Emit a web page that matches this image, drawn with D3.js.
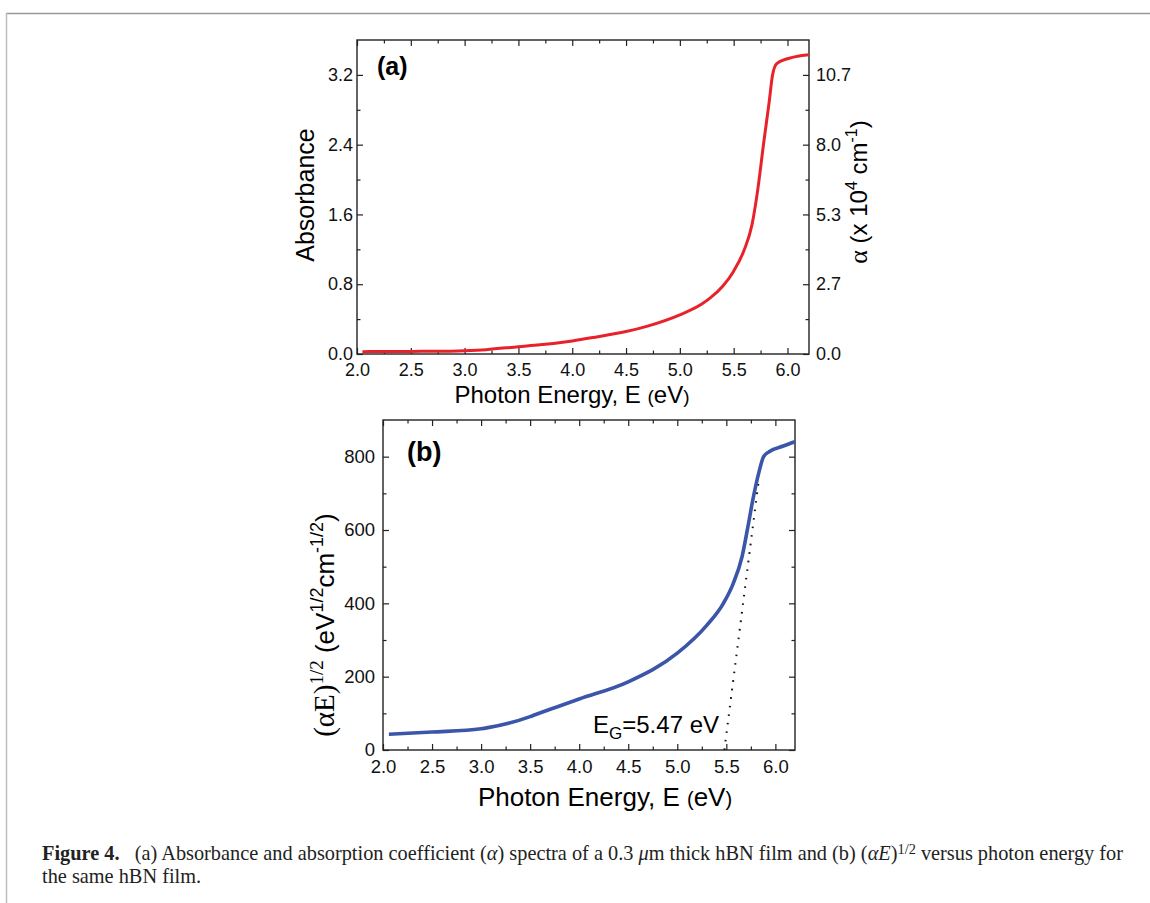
<!DOCTYPE html>
<html><head><meta charset="utf-8">
<script src="https://cdn.jsdelivr.net/npm/d3@7"></script>
<style>body{margin:0;background:#fff}svg{display:block}</style>
</head><body><svg id="c" width="1150" height="903"></svg>
<script>
// ---------- data ----------
const energyA = [2.05, 2.2, 2.5, 2.7, 3.0, 3.2, 3.5, 3.7, 4.0, 4.2, 4.5, 4.7, 5.0, 5.2, 5.28, 5.4, 5.5, 5.6, 5.67, 5.72, 5.78, 5.83, 5.86, 5.9, 6.0, 6.12, 6.2];
const absorbance = [0.027, 0.028, 0.03, 0.031, 0.038, 0.05, 0.084, 0.105, 0.15, 0.19, 0.257, 0.32, 0.449, 0.57, 0.64, 0.78, 0.95, 1.2, 1.48, 1.85, 2.43, 2.89, 3.19, 3.33, 3.385, 3.42, 3.43];
const energyB = [2.06, 2.5, 3.0, 3.07, 3.5, 3.55, 3.8, 4.0, 4.5, 5.0, 5.3, 5.47, 5.57, 5.66, 5.72, 5.77, 5.83, 5.88, 5.94, 6.08, 6.2];
const sqrtAlphaE = [43, 49, 58, 61, 91, 96, 120, 139, 186, 264, 340, 400, 454, 527, 609, 682, 755, 800, 814, 829, 841];
const tangentE = [5.48, 5.83];
const tangentV = [0, 735];
const xTicks = [2.0, 2.5, 3.0, 3.5, 4.0, 4.5, 5.0, 5.5, 6.0];
const xMinorTicks = [2.25, 2.75, 3.25, 3.75, 4.25, 4.75, 5.25, 5.75];
const absTicks = [0, 0.8, 1.6, 2.4, 3.2];
const absMinorTicks = [0.4, 1.2, 2.0, 2.8];
const alphaTicks = [0, 8/3, 16/3, 8, 32/3];
const bTicks = [0, 200, 400, 600, 800];
const bMinorTicks = [100, 300, 500, 700];

const svg = d3.select('#c');
const SANS = '"Liberation Sans", Arial, sans-serif';
const TICKF = '"Liberation Sans", Arial, sans-serif';
const SERIF = '"Liberation Serif", "Times New Roman", serif';

// page frame
svg.append('line').attr('x1', 6).attr('x2', 1150).attr('y1', 13.5).attr('y2', 13.5).attr('stroke', '#999').attr('stroke-width', 1.5);
svg.append('line').attr('x1', 6.5).attr('x2', 6.5).attr('y1', 13).attr('y2', 903).attr('stroke', '#bbb').attr('stroke-width', 1.5);

function panel(o) {
  const x = d3.scaleLinear().domain([2, 6.2]).range([o.left, o.right]);
  const y = d3.scaleLinear().domain(o.yDomain).range([o.bottom, o.top]);
  const g = svg.append('g');
  const fmt1 = d3.format('.1f');
  const add = (gen, tr) => g.append('g').attr('transform', tr).call(gen);
  add(d3.axisBottom(x).tickValues(xTicks).tickSize(-6).tickPadding(o.padX).tickFormat(fmt1), `translate(0,${o.bottom})`);
  add(d3.axisBottom(x).tickValues(xMinorTicks).tickSize(-3.5).tickFormat(''), `translate(0,${o.bottom})`);
  add(d3.axisTop(x).tickValues(xTicks).tickSize(-6).tickFormat(''), `translate(0,${o.top})`);
  add(d3.axisTop(x).tickValues(xMinorTicks).tickSize(-3.5).tickFormat(''), `translate(0,${o.top})`);
  add(d3.axisLeft(y).tickValues(o.yTicks).tickSize(-6).tickPadding(o.padY).tickFormat(o.yFmt), `translate(${o.left},0)`);
  add(d3.axisLeft(y).tickValues(o.yMinor).tickSize(-3.5).tickFormat(''), `translate(${o.left},0)`);
  if (o.right2) {
    const y2 = d3.scaleLinear().domain(o.right2.domain).range([o.bottom, o.top]);
    add(d3.axisRight(y2).tickValues(o.right2.ticks).tickSize(-6).tickPadding(7).tickFormat(fmt1), `translate(${o.right},0)`);
  } else {
    add(d3.axisRight(y).tickValues(o.yTicks).tickSize(-6).tickFormat(''), `translate(${o.right},0)`);
  }
  add(d3.axisRight(y).tickValues(o.yMinor).tickSize(-3.5).tickFormat(''), `translate(${o.right},0)`);
  g.selectAll('.domain').remove();
  g.selectAll('.tick line').attr('stroke', '#222').attr('stroke-width', 1.2);
  g.selectAll('.tick text').attr('font-family', TICKF).attr('font-size', o.tickSize).attr('fill', '#111');
  g.append('rect').attr('x', o.left).attr('y', o.top).attr('width', o.right - o.left).attr('height', o.bottom - o.top)
    .attr('fill', 'none').attr('stroke', '#222').attr('stroke-width', 1.4);
  return {x, y, g};
}

// ---------- panel (a) ----------
const A = panel({left: 357, right: 809, top: 40, bottom: 354, yDomain: [0, 3.6], yTicks: absTicks, yMinor: absMinorTicks,
  yFmt: d3.format('.1f'), padX: 9, padY: 4, tickSize: 18, right2: {domain: [0, 12], ticks: alphaTicks}});
const lineA = d3.line().x((d, i) => A.x(energyA[i])).y(d => A.y(d)).curve(d3.curveMonotoneX);
A.g.append('path').attr('d', lineA(absorbance)).attr('fill', 'none').attr('stroke', '#e8222b').attr('stroke-width', 3);
A.g.append('text').attr('x', 377).attr('y', 75).attr('font-family', SANS).attr('font-weight', 'bold').attr('font-size', 25).text('(a)');
A.g.append('text').attr('transform', 'translate(314,195) rotate(-90)').attr('text-anchor', 'middle')
  .attr('font-family', SANS).attr('font-size', 25).text('Absorbance');
const xlA = A.g.append('text').attr('x', 572).attr('y', 403).attr('text-anchor', 'middle').attr('font-family', SANS).attr('font-size', 24);
xlA.append('tspan').text('Photon Energy, E ');
xlA.append('tspan').attr('font-size', 19).text('(');
xlA.append('tspan').text('eV');
xlA.append('tspan').attr('font-size', 19).text(')');
const rl = A.g.append('text').attr('transform', 'translate(867,192) rotate(-90)').attr('text-anchor', 'middle')
  .attr('font-family', SANS).attr('font-size', 24);
rl.append('tspan').attr('font-family', SERIF).attr('font-size', 26).text('α');
rl.append('tspan').text(' (x 10');
rl.append('tspan').attr('dy', -10).attr('font-size', 16).text('4');
rl.append('tspan').attr('dy', 10).text(' cm');
rl.append('tspan').attr('dy', -10).attr('font-size', 16).text('-1');
rl.append('tspan').attr('dy', 10).text(')');

// ---------- panel (b) ----------
const B = panel({left: 383, right: 795, top: 420, bottom: 750, yDomain: [0, 900], yTicks: bTicks, yMinor: bMinorTicks,
  yFmt: d3.format('d'), padX: 10, padY: 8, tickSize: 18.5});
const lineB = d3.line().x((d, i) => B.x(energyB[i])).y(d => B.y(d)).curve(d3.curveMonotoneX);
const lineT = d3.line().x((d, i) => B.x(tangentE[i])).y(d => B.y(d));
B.g.append('path').attr('d', lineT(tangentV)).attr('fill', 'none').attr('stroke', '#111').attr('stroke-width', 2)
  .attr('stroke-dasharray', '1.6,7');
B.g.append('path').attr('d', lineB(sqrtAlphaE)).attr('fill', 'none').attr('stroke', '#3b55a8').attr('stroke-width', 3.6);
B.g.append('text').attr('x', 407).attr('y', 461).attr('font-family', SANS).attr('font-weight', 'bold').attr('font-size', 27).text('(b)');
const eg = B.g.append('text').attr('x', 593).attr('y', 733).attr('font-family', SANS).attr('font-size', 24);
eg.append('tspan').text('E');
eg.append('tspan').attr('dy', 6).attr('font-size', 17).text('G');
eg.append('tspan').attr('dy', -6).text('=5.47 eV');
const xlB = B.g.append('text').attr('x', 605).attr('y', 806).attr('text-anchor', 'middle').attr('font-family', SANS).attr('font-size', 26);
xlB.append('tspan').text('Photon Energy, E ');
xlB.append('tspan').attr('font-size', 20).text('(');
xlB.append('tspan').text('eV');
xlB.append('tspan').attr('font-size', 20).text(')');
const yl = B.g.append('text').attr('transform', 'translate(334,625) rotate(-90)').attr('text-anchor', 'middle')
  .attr('font-family', SANS).attr('font-size', 26);
yl.append('tspan').attr('font-family', SERIF).attr('font-size', 29).text('(αE)');
yl.append('tspan').attr('font-family', SERIF).attr('dy', -11).attr('font-size', 19).text('1/2');
yl.append('tspan').attr('dy', 11).text(' (eV');
yl.append('tspan').attr('dy', -11).attr('font-size', 18).text('1/2');
yl.append('tspan').attr('dy', 11).text('cm');
yl.append('tspan').attr('dy', -11).attr('font-size', 18).text('-1/2');
yl.append('tspan').attr('dy', 11).text(')');

// ---------- caption ----------
const cap = svg.append('text').attr('x', 42).attr('y', 860).attr('font-family', SERIF).attr('font-size', 17).attr('fill', '#222')
  .style('white-space', 'pre');
cap.append('tspan').attr('font-weight', 'bold').text('Figure 4.');
cap.append('tspan').text('   (a) Absorbance and absorption coefficient (');
cap.append('tspan').attr('font-style', 'italic').text('α');
cap.append('tspan').text(') spectra of a 0.3 ');
cap.append('tspan').attr('font-style', 'italic').text('μ');
cap.append('tspan').text('m thick hBN film and (b) (');
cap.append('tspan').attr('font-style', 'italic').text('αE');
cap.append('tspan').text(')');
cap.append('tspan').attr('dy', -6).attr('font-size', 12).text('1/2');
cap.append('tspan').attr('dy', 6).text(' versus photon energy for');
const w = cap.node().getComputedTextLength();
if (w > 0) cap.attr('font-size', 17 * 1082 / w).selectAll('tspan').each(function () {
  const fs = d3.select(this).attr('font-size');
  if (fs) d3.select(this).attr('font-size', fs * 1082 / w);
});
svg.append('text').attr('x', 42).attr('y', 883).attr('font-family', SERIF).attr('font-size', 17 * 1082 / (w || 1082)).attr('fill', '#222')
  .text('the same hBN film.');
</script></body></html>
